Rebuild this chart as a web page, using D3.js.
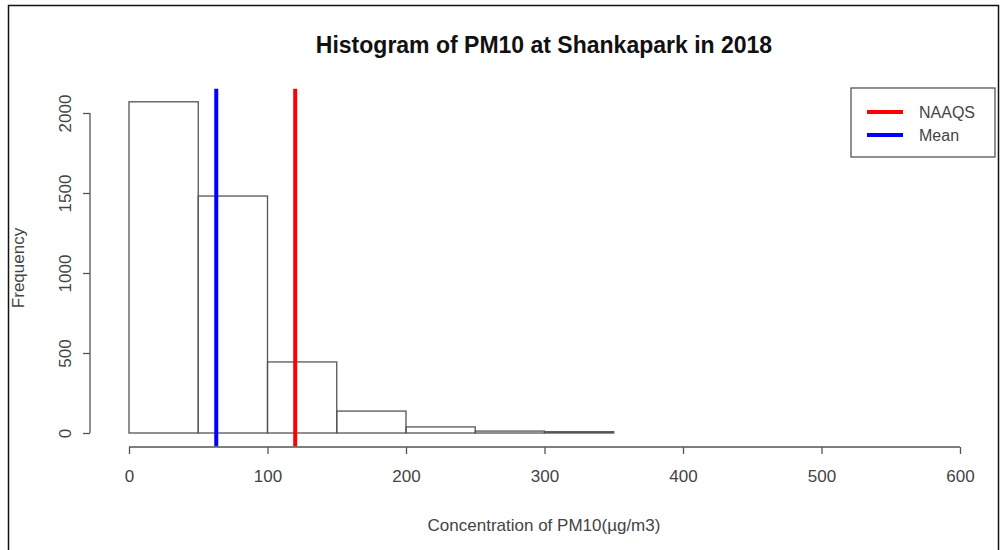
<!DOCTYPE html>
<html><head><meta charset="utf-8">
<script src="https://cdn.jsdelivr.net/npm/d3@7"></script>
<style>body{margin:0;background:#fff}svg text{font-family:"Liberation Sans",Arial,sans-serif}</style>
</head><body><svg id="c" width="1000" height="550"></svg>
<script>
const binStarts = [0,50,100,150,200,250,300,350,400,450,500,550];
const binWidth = 50;
const counts = [2070,1481,444,137,38,12,8,0,0,0,0,0];
const xTicks = [0,100,200,300,400,500,600];
const yTicks = [0,500,1000,1500,2000];
const naaqs = 120;
const meanVal = 63;
const titleText = "Histogram of PM10 at Shankapark in 2018";
const xLabel = "Concentration of PM10(µg/m3)";
const yLabel = "Frequency";
const legendItems = [{label:"NAAQS", color:"#ff0000"},{label:"Mean", color:"#0000ff"}];

const svg = d3.select("#c");
const x = d3.scaleLinear().domain([0,600]).range([129,960]);
const y = d3.scaleLinear().domain([0,2000]).range([433,113]);
const yMaxRegion = 2152, yMinRegion = -83;
const grey = "#555";

// outer frame
svg.append("path").attr("d","M8.5,550 V5.5 H998.5 V550").attr("fill","none").attr("stroke","#111").attr("stroke-width",1.5);

// bars
svg.append("g").selectAll("rect").data(binStarts).join("rect")
  .attr("x",(d)=>x(d)).attr("width",(d)=>x(d+binWidth)-x(d))
  .attr("y",(d,i)=>y(counts[i])).attr("height",(d,i)=>y(0)-y(counts[i]))
  .attr("fill","none").attr("stroke",grey).attr("stroke-width",1.3);

// x axis
const xAxis = svg.append("g").attr("transform","translate(0,447)")
  .call(d3.axisBottom(x).tickValues(xTicks).tickSize(7).tickPadding(16).tickFormat(d3.format("d")));
// y axis
const yAxis = svg.append("g").attr("transform","translate(90,0)")
  .call(d3.axisLeft(y).tickValues(yTicks).tickSize(7).tickFormat(d3.format("d")));
[xAxis,yAxis].forEach(a=>{
  a.select(".domain").attr("stroke",grey).attr("stroke-width",1.3);
  a.selectAll(".tick line").attr("stroke",grey).attr("stroke-width",1.3);
  a.selectAll("text").attr("fill","#444").style("font-size","17px");
});
xAxis.selectAll(".domain").attr("d",`M${x(0)},0H${x(600)}`);
yAxis.selectAll(".domain").attr("d",`M0,${y(0)}V${y(2000)}`);
yAxis.selectAll(".tick text").attr("text-anchor","middle")
  .attr("x",0).attr("y",0).attr("dy",null)
  .attr("transform","translate(-19,0) rotate(-90)");

// vertical lines
svg.append("line").attr("x1",x(meanVal)).attr("x2",x(meanVal)).attr("y1",y(yMaxRegion)).attr("y2",y(yMinRegion))
  .attr("stroke","#0000ff").attr("stroke-width",4);
svg.append("line").attr("x1",x(naaqs)).attr("x2",x(naaqs)).attr("y1",y(yMaxRegion)).attr("y2",y(yMinRegion))
  .attr("stroke","#ff0000").attr("stroke-width",4);

// title
svg.append("text").attr("x",544).attr("y",53).attr("text-anchor","middle")
  .style("font-size","23px").style("font-weight","bold").attr("fill","#111").text(titleText);
// axis labels
svg.append("text").attr("x",544).attr("y",531).attr("text-anchor","middle")
  .style("font-size","17px").attr("fill","#444").text(xLabel);
svg.append("text").attr("transform","translate(24,268) rotate(-90)").attr("text-anchor","middle")
  .style("font-size","17px").attr("fill","#444").text(yLabel);

// legend
const lg = svg.append("g").attr("transform","translate(851,88)");
lg.append("rect").attr("x",0).attr("y",0).attr("width",144).attr("height",69)
  .attr("fill","#fff").attr("stroke",grey).attr("stroke-width",1.3);
legendItems.forEach((it,i)=>{
  lg.append("line").attr("x1",16).attr("x2",52).attr("y1",24+i*23).attr("y2",24+i*23)
    .attr("stroke",it.color).attr("stroke-width",4);
  lg.append("text").attr("x",68).attr("y",24+i*23).attr("dy","0.35em")
    .style("font-size","16px").attr("fill","#444").text(it.label);
});
</script></body></html>
